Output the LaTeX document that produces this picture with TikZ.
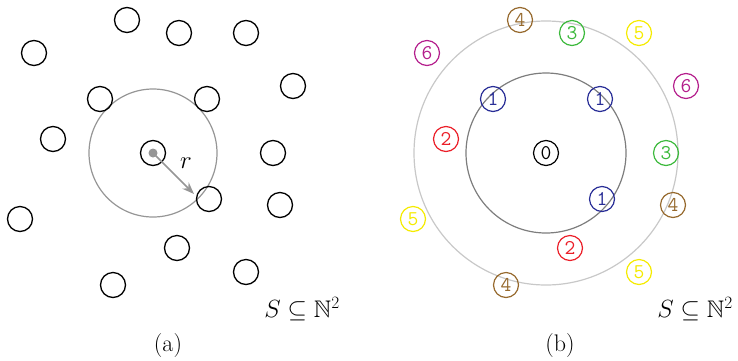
\documentclass[tikz,border=0pt]{standalone}
\usepackage{amssymb}
\usetikzlibrary{arrows.meta}
\definecolor{cblue}{RGB}{40,45,150}
\definecolor{cred}{RGB}{235,30,40}
\definecolor{cgreen}{RGB}{60,185,60}
\definecolor{cbrown}{RGB}{150,105,45}
\definecolor{cyellow}{RGB}{245,235,0}
\definecolor{cmag}{RGB}{180,30,140}
\definecolor{gmid}{RGB}{150,150,150}
\definecolor{gdark}{RGB}{125,125,125}
\definecolor{glight}{RGB}{200,200,200}
\begin{document}
\begin{tikzpicture}[x=1pt,y=-1pt,
  pt/.style={circle,draw=black,line width=1.3pt,minimum size=25pt,inner sep=0pt},
  num/.style={circle,draw=#1,text=#1,line width=1.2pt,minimum size=25pt,inner sep=0pt,font=\fontsize{21}{21}\selectfont\ttfamily},
  ring/.style={circle,draw=#1,line width=1.2pt,inner sep=0pt,fill=none},
  lab/.style={font=\fontsize{24}{28}\selectfont}]
\useasboundingbox (0,0) rectangle (738,360);
% ---- panel (a)
\node[ring=gmid,minimum size=128pt] (ra) at (153,153) {};
\node[pt] (a0) at (153,153) {};
\node[circle,fill=gmid,minimum size=9pt,inner sep=0pt] (dot) at (153,153) {};
\node[pt] (a1) at (127,20) {};
\node[pt] (a2) at (179,33) {};
\node[pt] (a3) at (246,33) {};
\node[pt] (a4) at (34,53) {};
\node[pt] (a5) at (293,86) {};
\node[pt] (a6) at (100,99) {};
\node[pt] (a7) at (207,99) {};
\node[pt] (a8) at (53,139) {};
\node[pt] (a9) at (273,153) {};
\node[pt] (a10) at (209,199) {};
\node[pt] (a11) at (280,205) {};
\node[pt] (a12) at (20,219) {};
\node[pt] (a13) at (177,248) {};
\node[pt] (a14) at (246,272) {};
\node[pt] (a15) at (113,285) {};
\coordinate (tip) at (194,194);
\draw[gmid,line width=1.7pt,-{Stealth[length=12pt,width=9pt]}] (dot.center) -- (tip);
\node[lab] (r) at (186,163) {$r$};
\node[lab] (sa) at (302,309) {$S\subseteq\mathbb{N}^2$};
\node[lab] (capa) at (168,346) {(a)};
% ---- panel (b)
\node[ring=glight,minimum size=264pt] (rout) at (546,153) {};
\node[ring=gdark,minimum size=160pt] (rin) at (546,153) {};
\node[num=black] (b0) at (546,153) {0};
\node[num=cbrown] (b1) at (520,20) {4};
\node[num=cgreen] (b2) at (572,33) {3};
\node[num=cyellow] (b3) at (639,33) {5};
\node[num=cmag] (b4) at (427,53) {6};
\node[num=cmag] (b5) at (686,86) {6};
\node[num=cblue] (b6) at (493,99) {1};
\node[num=cblue] (b7) at (600,99) {1};
\node[num=cred] (b8) at (446,139) {2};
\node[num=cgreen] (b9) at (666,153) {3};
\node[num=cblue] (b10) at (602,199) {1};
\node[num=cbrown] (b11) at (673,205) {4};
\node[num=cyellow] (b12) at (413,219) {5};
\node[num=cred] (b13) at (570,248) {2};
\node[num=cyellow] (b14) at (639,272) {5};
\node[num=cbrown] (b15) at (506,285) {4};
\node[lab] (sb) at (695,309) {$S\subseteq\mathbb{N}^2$};
\node[lab] (capb) at (560,346) {(b)};
\end{tikzpicture}
\end{document}
